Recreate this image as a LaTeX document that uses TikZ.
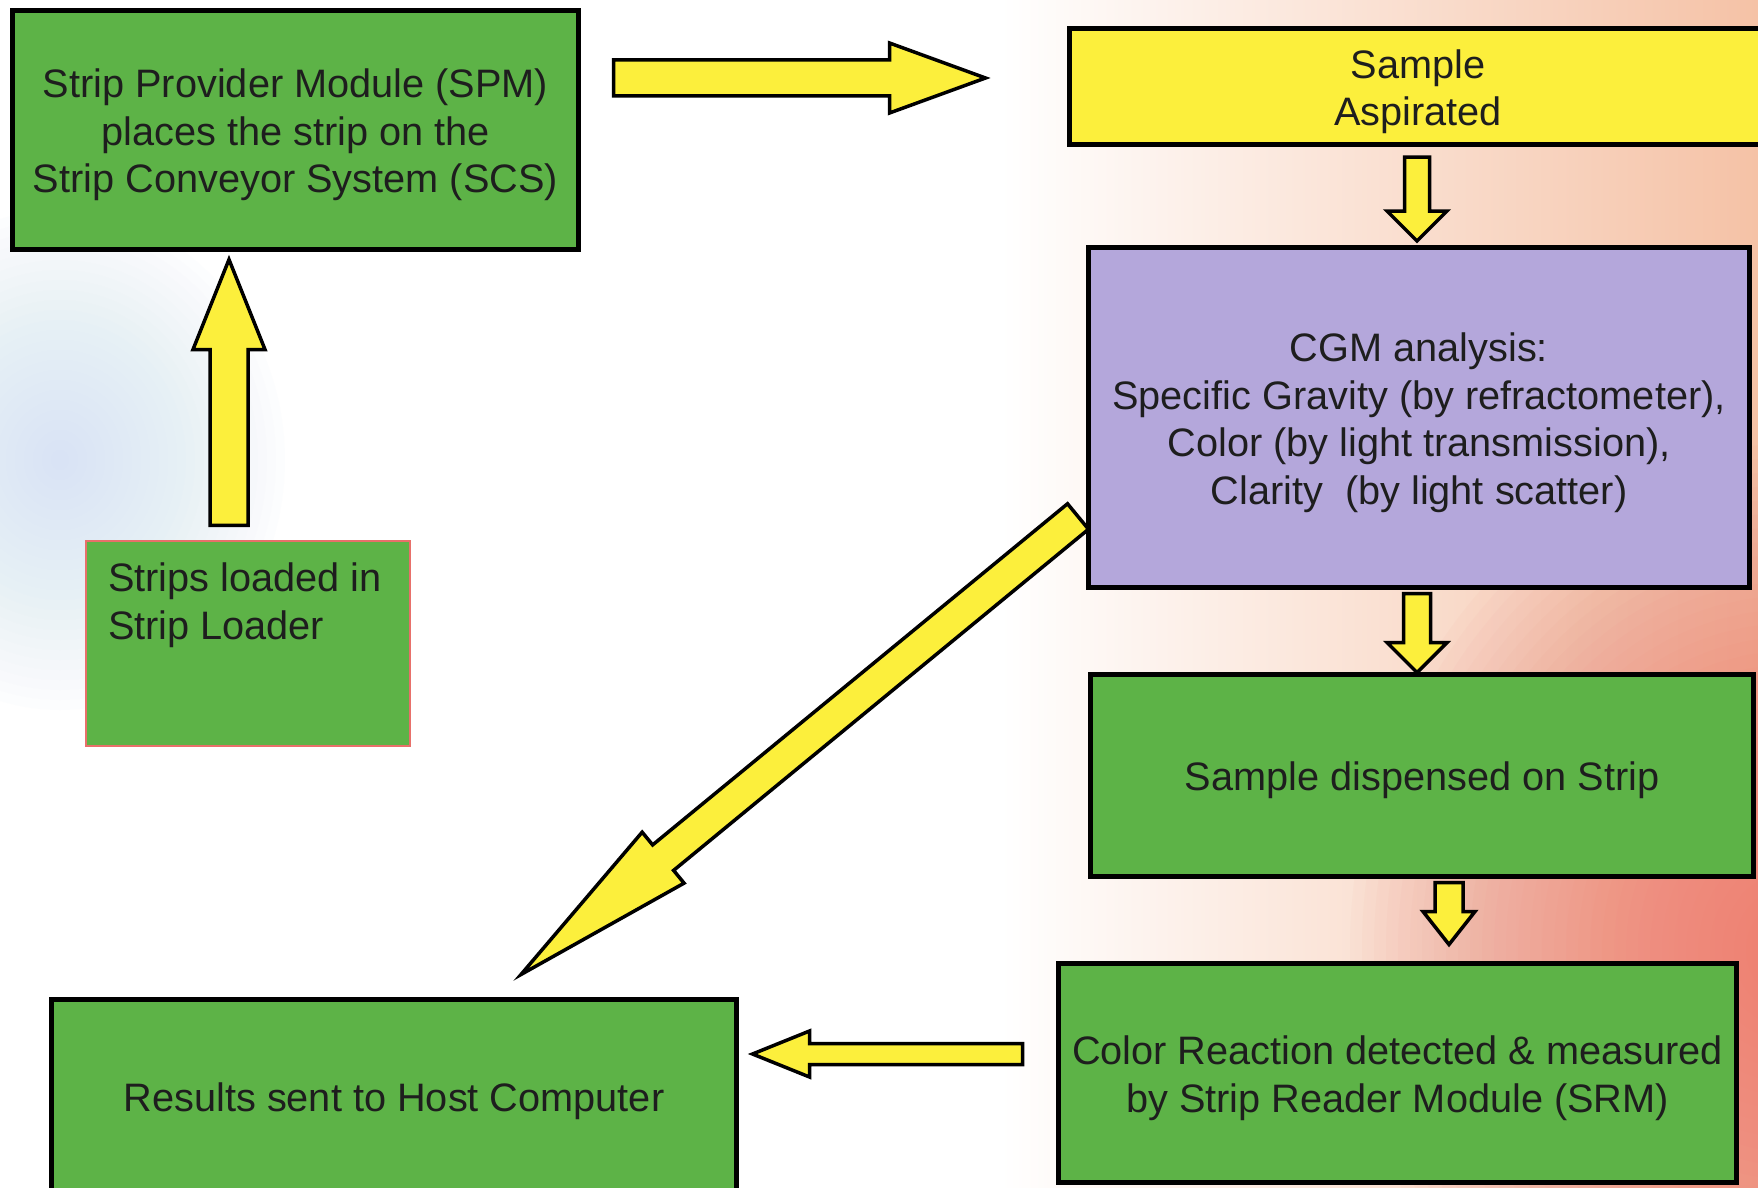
\documentclass[tikz,border=0pt]{standalone}
\usepackage{fontspec}
\setmainfont{Liberation Sans}
\usetikzlibrary{calc}
\definecolor{boxgreen}{HTML}{5DB347}
\definecolor{boxyellow}{HTML}{FCEF3C}
\definecolor{arryellow}{HTML}{FCEF3C}
\definecolor{boxpurple}{HTML}{B4A7DB}
\definecolor{loaderedge}{HTML}{E8706A}
\definecolor{peach}{HTML}{F5C2A6}
\definecolor{blobred}{HTML}{EE6F66}
\definecolor{blobblue}{HTML}{CFE2F5}
\definecolor{inktext}{HTML}{1E1E1E}
\newcommand\tfix{\rule{0pt}{39pt}}
\tikzset{
  basebox/.style={rectangle, inner sep=0pt, align=center,
    font=\fontsize{39.7}{47.5}\selectfont, text=inktext},
  procbox/.style={basebox, draw=black, line width=5pt, fill=boxgreen},
  aspbox/.style={basebox, draw=black, line width=5pt, fill=boxyellow},
  cgmbox/.style={basebox, draw=black, line width=5pt, fill=boxpurple},
  loaderbox/.style={basebox, draw=loaderedge, line width=1.4pt, fill=boxgreen},
  fatarr/.style={draw=black, line width=3.5pt, fill=arryellow, line join=miter},
}
% #1 tail, #2 tip, #3 shaft half width, #4 head half width, #5 head length
\newcommand\fatarrow[5]{%
  \coordinate (fa-base) at ($(#2)!#5pt!(#1)$);
  \draw[fatarr] ($(#1)!#3pt!90:(#2)$) -- ($(fa-base)!#3pt!-90:(#1)$)
    -- ($(fa-base)!#4pt!-90:(#1)$) -- (#2)
    -- ($(fa-base)!#4pt!90:(#1)$) -- ($(fa-base)!#3pt!90:(#1)$)
    -- ($(#1)!#3pt!-90:(#2)$) -- cycle;
}
\begin{document}
\begin{tikzpicture}[x=1pt, y=-1pt]
\useasboundingbox (0,0) rectangle (1758,1188);
\clip (0,0) rectangle (1758,1188);
% background
\fill[white] (0,0) rectangle (1758,1188);
\shade[left color=white, right color=peach] (1000,0) rectangle (1758,1188);
\foreach \r in {20,32,...,440} {
  \fill[blobred, opacity=0.03] (1790,950) ellipse [x radius=\r, y radius=1.15*\r];
}
\foreach \r in {10,20,...,250} {
  \fill[blobblue, opacity=0.045] (60,460) ellipse [x radius=0.9*\r, y radius=\r];
}
% boxes
\node[procbox, minimum width=566pt, minimum height=239pt] (spm) at (295.5,130)
  {\tfix Strip Provider Module (SPM)\\places the strip on the\\Strip Conveyor System (SCS)};
\node[aspbox, minimum width=697pt, minimum height=116pt] (asp) at (1418,86.5)
  {\tfix Sample\\Aspirated};
\node[cgmbox, minimum width=661pt, minimum height=340pt] (cgm) at (1419,417.5)
  {\tfix CGM analysis:\\Specific Gravity (by refractometer),\\Color (by light transmission),\\Clarity\ \ (by light scatter)};
\node[procbox, minimum width=663pt, minimum height=202pt] (disp) at (1422,775.5)
  {\tfix Sample dispensed on Strip};
\node[procbox, minimum width=678pt, minimum height=219pt] (srm) at (1397.5,1073)
  {\tfix Color Reaction detected \& measured\\by Strip Reader Module (SRM)};
\node[procbox, minimum width=685pt, minimum height=194pt] (res) at (394,1096.5)
  {\tfix Results sent to Host Computer};
\node[loaderbox, minimum width=324pt, minimum height=205pt] (load) at (248,643.5)
  {\parbox[c][205pt][t]{280pt}{\vspace*{22pt}Strips loaded in\\Strip Loader}};
% arrow end points
\coordinate (aA1) at ($(spm.east)+(32.5,-52)$);
\coordinate (aA2) at ($(asp.west)+(-81.5,-8.5)$);
\coordinate (aB1) at ($(asp.south)+(-1,10)$);
\coordinate (aB2) at ($(cgm.north)+(-2,-4)$);
\coordinate (aC1) at ($(load.north)+(-19,-15)$);
\coordinate (aC2) at ($(spm.south)+(-66.5,7.5)$);
\coordinate (aD1) at ($(cgm.south)+(-2,3.5)$);
\coordinate (aD2) at ($(disp.north)+(-5,0.5)$);
\coordinate (aE1) at ($(disp.south)+(27,3.5)$);
\coordinate (aE2) at ($(srm.north)+(51.5,-16.5)$);
\coordinate (aF1) at ($(srm.west)+(-33.5,-19)$);
\coordinate (aF2) at ($(res.east)+(13.5,-42.5)$);
\coordinate (aG1) at ($(cgm.west)+(-8,99)$);
\coordinate (aG2) at ($(res.north)+(127,-22.5)$);
% arrows
\fatarrow{aA1}{aA2}{18}{35}{96}
\fatarrow{aB1}{aB2}{12.5}{30}{30}
\fatarrow{aC1}{aC2}{19}{36}{90}
\fatarrow{aD1}{aD2}{13.5}{30}{30}
\fatarrow{aE1}{aE2}{14}{26}{33}
\fatarrow{aF1}{aF2}{10.5}{23}{57}
\fatarrow{aG1}{aG2}{16.5}{33}{184}
\end{tikzpicture}
\end{document}
